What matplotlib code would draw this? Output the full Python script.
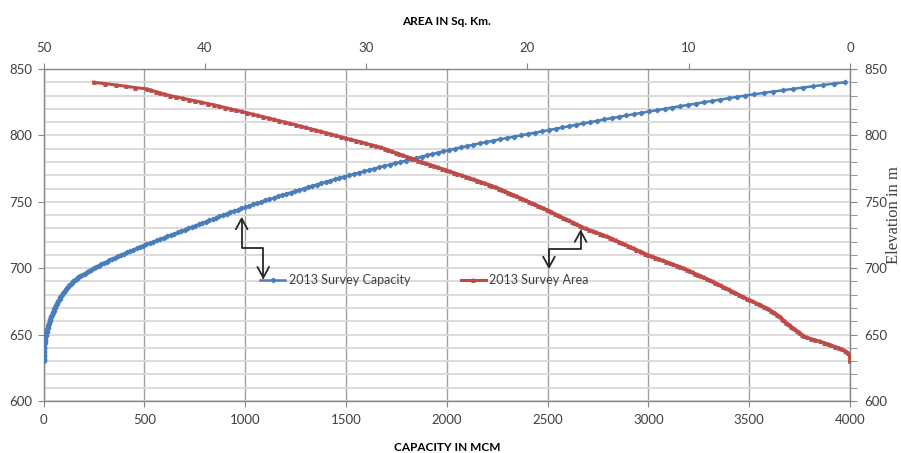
import matplotlib
matplotlib.use('Agg')
import matplotlib.pyplot as plt
from matplotlib.patches import FancyArrowPatch
from matplotlib.path import Path
from matplotlib.ticker import MultipleLocator

elevation = list(range(630, 841))

capacity = [
    0, 0.1, 0.2, 0.4, 0.6, 0.8, 1.0, 1.3, 1.6, 1.8,
    2.0, 2.5, 3.2, 4.0, 5.0, 6.0, 7.0, 8.2, 9.4, 10.7,
    12, 13.5, 15, 16.6, 18.3, 20, 21.8, 23.7, 25.7, 27.8,
    30, 32.3, 34.7, 37.1, 39.6, 42.2, 44.8, 47.5, 50.2, 53,
    56, 59, 62.2, 65.4, 68.8, 72.2, 75.8, 79.5, 83.4, 87.6,
    92, 96.6, 101.4, 106.4, 111.6, 117, 122.6, 128.4, 134.5, 141,
    148, 156, 164.5, 173.5, 183, 193, 203.5, 214.5, 225.5, 236.5,
    248, 260.5, 273.3, 286.3, 299.5, 313, 326.8, 340.8, 355, 369.8,
    385, 400, 415.2, 430.6, 446.2, 462, 478, 494.2, 510.6, 527.6,
    545, 562.3, 579.6, 596.9, 614.2, 631.5, 648.8, 666.1, 683.4, 700.7,
    718, 735.2, 752.4, 769.6, 786.8, 804, 821.2, 838.4, 855.6, 872.8,
    890, 908, 926.2, 944.6, 963.2, 982, 1001, 1020.2, 1039.6, 1059.6,
    1080, 1100.2, 1120.6, 1141.2, 1162, 1183, 1204.2, 1225.6, 1247.2, 1268.8,
    1290, 1311.5, 1333.2, 1355.1, 1377.2, 1399.5, 1422, 1444.7, 1467.6, 1491,
    1515, 1539.5, 1564.2, 1589.1, 1614.2, 1639.5, 1665, 1690.7, 1716.6, 1743,
    1770, 1796, 1822.2, 1848.6, 1875.2, 1902, 1929, 1956.2, 1983.6, 2011.6,
    2040, 2070, 2100.5, 2131.5, 2163, 2195, 2227.5, 2262.5, 2298, 2334,
    2370, 2403.5, 2437.2, 2471.1, 2505.2, 2539.5, 2573.8, 2607.9, 2641.9, 2676,
    2710, 2745.5, 2781.3, 2817.5, 2854, 2890.8, 2928, 2965.5, 3003.3, 3041.5,
    3080, 3118.5, 3157.5, 3196.8, 3236.5, 3276.5, 3316.5, 3356.8, 3397.5, 3438.5,
    3480, 3525, 3571, 3618, 3666, 3715, 3765, 3816, 3868, 3921,
    3975,
]

area = [
    0, 0, 0, 0, 0, 0.03, 0.1, 0.2, 0.33, 0.48,
    0.69, 0.92, 1.15, 1.38, 1.61, 1.88, 2.15, 2.42, 2.69, 2.86,
    2.97, 3.08, 3.19, 3.3, 3.41, 3.52, 3.63, 3.74, 3.85, 3.96,
    4.05, 4.13, 4.21, 4.3, 4.39, 4.5, 4.62, 4.75, 4.89, 5.03,
    5.17, 5.33, 5.5, 5.67, 5.85, 6.03, 6.22, 6.38, 6.55, 6.71,
    6.87, 7.04, 7.2, 7.36, 7.52, 7.69, 7.85, 8.01, 8.18, 8.34,
    8.5, 8.68, 8.86, 9.04, 9.22, 9.4, 9.58, 9.76, 9.94, 10.12,
    10.3, 10.52, 10.74, 10.96, 11.18, 11.4, 11.62, 11.84, 12.06, 12.28,
    12.5, 12.68, 12.87, 13.05, 13.24, 13.42, 13.6, 13.79, 13.97, 14.16,
    14.34, 14.52, 14.71, 14.85, 15.07, 15.29, 15.51, 15.73, 15.95, 16.17,
    16.39, 16.6, 16.75, 16.92, 17.09, 17.26, 17.44, 17.61, 17.78, 17.96,
    18.13, 18.3, 18.48, 18.6, 18.78, 18.97, 19.15, 19.34, 19.52, 19.71,
    19.89, 20.08, 20.26, 20.45, 20.63, 20.82, 21.0, 21.19, 21.37, 21.56,
    21.74, 21.95, 22.17, 22.4, 22.63, 22.87, 23.1, 23.34, 23.58, 23.83,
    24.08, 24.34, 24.57, 24.8, 25.05, 25.3, 25.54, 25.79, 26.04, 26.28,
    26.53, 26.78, 27.0, 27.23, 27.47, 27.7, 27.93, 28.16, 28.39, 28.62,
    28.85, 29.08, 29.4, 29.71, 30.02, 30.3, 30.64, 30.95, 31.26, 31.57,
    31.88, 32.19, 32.5, 32.81, 33.12, 33.43, 33.74, 34.05, 34.37, 34.7,
    35.03, 35.37, 35.7, 36.03, 36.37, 36.7, 37.03, 37.37, 37.71, 38.06,
    38.4, 38.75, 39.09, 39.44, 39.83, 40.21, 40.6, 40.99, 41.38, 41.76,
    42.15, 42.47, 42.75, 43.03, 43.31, 43.6, 44.3, 44.9, 45.5, 46.2,
    46.9,
]

cap_ticks = list(range(0, 4001, 500))
area_ticks = [50, 40, 30, 20, 10, 0]
elev_ticks = list(range(600, 851, 50))

series_names = ["2013 Survey Capacity", "2013 Survey Area"]
blue = "#4A7EBB"
red = "#BE4B48"

plt.rcParams['font.family'] = ['Lato', 'DejaVu Sans']

fig = plt.figure(figsize=(9.01, 4.53), dpi=100)
ax = fig.add_axes([43.5 / 901, 1 - 401 / 453, (850 - 43.5) / 901, (401 - 69) / 453])

ax.set_xlim(0, 4000)
ax.set_ylim(600, 850)
ax.set_xticks(cap_ticks)
ax.set_yticks(elev_ticks)
ax.yaxis.set_minor_locator(MultipleLocator(10))
ax.grid(which='major', axis='x', color='#a0a0a0', lw=1.0)
ax.grid(which='both', axis='y', color='#d9d9d9', lw=1.3)
ax.set_axisbelow(True)
ax.tick_params(axis='both', which='major', labelsize=9.5, colors='#404040',
               length=4, color='#868686')
ax.tick_params(axis='y', which='minor', length=0)
ax.tick_params(axis='x', pad=5)
ax.tick_params(axis='y', pad=4)
for s in ax.spines.values():
    s.set_color('#868686')
    s.set_linewidth(1.0)
ax.set_xlabel("CAPACITY IN MCM", fontsize=8.5, fontweight='bold', labelpad=12)

l1, = ax.plot(capacity, elevation, color=blue, lw=1.8, marker='D', ms=2.3,
              zorder=3)

ax_top = ax.twiny()
ax_top.set_xlim(50, 0)
ax_top.set_xticks(area_ticks)
ax_top.tick_params(axis='x', labelsize=9.5, colors='#404040', length=4,
                   color='#868686', pad=7)
for s in ax_top.spines.values():
    s.set_visible(False)
ax_top.set_xlabel("AREA IN Sq. Km.", fontsize=8.5, fontweight='bold', labelpad=12)
l2, = ax_top.plot(area, elevation, color=red, lw=2.2, marker='^', ms=2.5,
                  zorder=3)

ax_r = ax.twinx()
ax_r.set_ylim(600, 850)
ax_r.set_yticks(elev_ticks)
ax_r.yaxis.set_minor_locator(MultipleLocator(10))
ax_r.tick_params(axis='y', which='major', labelsize=9.5, colors='#404040',
                 length=5, color='#868686', pad=5)
ax_r.tick_params(axis='y', which='minor', length=5, color='#868686')
for s in ax_r.spines.values():
    s.set_visible(False)
ax_r.set_ylabel("Elevation in m", family='Liberation Serif', fontsize=12,
                color='#404040', va='center')
ax_r.yaxis.set_label_coords(1 + 44 / 806.5, 0.56)

leg = ax_top.legend([l1, l2], series_names, loc='center left',
                    bbox_to_anchor=(0.255, 0.3645), ncol=2, frameon=False,
                    fontsize=9, handlelength=2.0, handletextpad=0.3,
                    columnspacing=4.0, borderpad=0.4)
for t in leg.get_texts():
    t.set_color('#404040')

arrow_paths = [
    [(983, 738.8), (983, 715.4), (1090, 715.4), (1090, 691.5)],
    [(2507, 699.2), (2507, 714.5), (2664, 714.5), (2664, 729.3)],
]
for verts in arrow_paths:
    codes = [Path.MOVETO] + [Path.LINETO] * (len(verts) - 1)
    p = FancyArrowPatch(path=Path(verts, codes),
                        arrowstyle='<->,head_length=0.55,head_width=0.3',
                        mutation_scale=14, color='#262626', lw=1.3,
                        shrinkA=0, shrinkB=0, transform=ax.transData,
                        zorder=5)
    ax.add_patch(p)

fig.savefig("out.png", dpi=100)
